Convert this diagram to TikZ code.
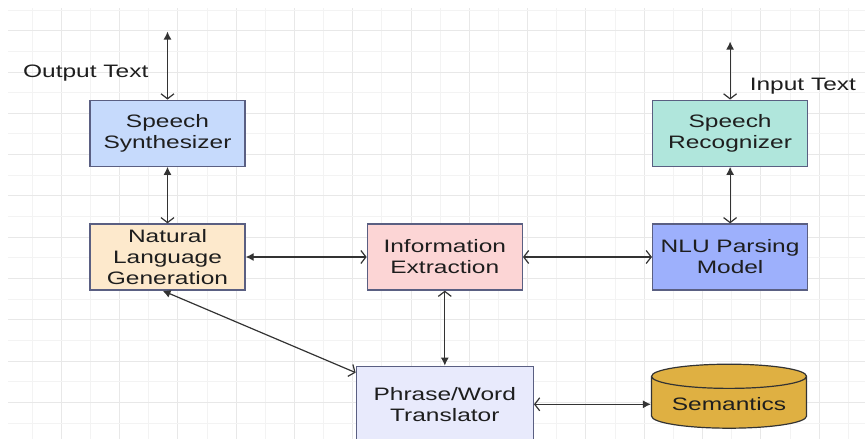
\documentclass[tikz,border=0pt]{standalone}
\usepackage{fontspec}
\setmainfont[FakeStretch=1.36]{Liberation Sans}
\usetikzlibrary{positioning,arrows.meta,shapes.geometric}

\definecolor{gridfaint}{HTML}{F3F3F3}
\definecolor{gridstrong}{HTML}{E8E8E8}
\definecolor{boxline}{HTML}{5A5F82}
\definecolor{inkgray}{HTML}{1E1E1E}
\definecolor{linkgray}{HTML}{333333}
\definecolor{synthfill}{HTML}{C6DAFC}
\definecolor{recogfill}{HTML}{B0E6DC}
\definecolor{nlgfill}{HTML}{FDE9CC}
\definecolor{iefill}{HTML}{FCD5D5}
\definecolor{nlufill}{HTML}{9DB0FC}
\definecolor{pwtfill}{HTML}{E8EAFC}
\definecolor{semfill}{HTML}{DFB042}

\begin{document}
\begin{tikzpicture}[x=1pt,y=1pt,
  box/.style={draw=boxline, line width=1.3pt, minimum width=155pt, minimum height=66pt,
    align=center, text=inkgray, font=\fontsize{18pt}{21pt}\selectfont},
  lbl/.style={inner sep=0pt, text=inkgray, font=\fontsize{18pt}{21pt}\selectfont},
  link/.style={draw=linkgray, line width=1.2pt},
  solidtip/.tip={Latex[length=8pt,width=8pt]},
  opentip/.tip={Straight Barb[length=5pt,width=13pt]}]
\useasboundingbox (0,0) rectangle (865,439);

%Background grid
\foreach \i in {0,2,...,28}
  \draw[gridfaint, line width=0.8pt] (32+29.15*\i,0) -- (32+29.15*\i,431);
\foreach \i in {1,3,...,27}
  \draw[gridstrong, line width=0.8pt] (32+29.15*\i,0) -- (32+29.15*\i,431);
\foreach \j in {0,2,...,20}
  \draw[gridfaint, line width=0.8pt] (8,429-20.65*\j) -- (865,429-20.65*\j);
\foreach \j in {1,3,...,19}
  \draw[gridstrong, line width=0.8pt] (8,429-20.65*\j) -- (865,429-20.65*\j);

%Blocks
\node (nlg) [box, fill=nlgfill] at (167.5,182) {Natural\\Language\\Generation};
\node (synth) [box, fill=synthfill, above=56.5pt of nlg] {Speech\\Synthesizer};
\node (ie) [box, fill=iefill, right=121pt of nlg] {Information\\Extraction};
\node (nlu) [box, fill=nlufill, right=129pt of ie] {NLU Parsing\\Model};
\node (recog) [box, fill=recogfill, above=56.5pt of nlu] {Speech\\Recognizer};
\node (pwt) [box, fill=pwtfill, minimum width=177pt, minimum height=76pt, below=75pt of ie] {Phrase/Word\\Translator};
\node (sem) [cylinder, shape border rotate=90, aspect=0.2, draw=linkgray, line width=1.2pt,
  cylinder uses custom fill, cylinder body fill=semfill, cylinder end fill=semfill,
  minimum width=155pt, minimum height=64pt, text=inkgray,
  font=\fontsize{18pt}{21pt}\selectfont, right=117pt of pwt] {Semantics};

%Free ends of the outer arrows
\coordinate (outtop) at ([yshift=68pt]synth.north);
\coordinate (intop) at ([yshift=58pt]recog.north);

%Names
\node (outlbl) [lbl, below left=33pt and 19pt of outtop] {Output Text};
\node (inlbl) [lbl, below right=36pt and 19.5pt of intop] {Input Text};

%Connectors
\draw[link, solidtip-opentip] (outtop) -- (synth);
\draw[link, solidtip-opentip] (synth) -- (nlg);
\draw[link, solidtip-opentip] (intop) -- (recog);
\draw[link, solidtip-opentip] (recog) -- (nlu);
\draw[link, solidtip-opentip] (nlg) -- (ie);
\draw[link, opentip-opentip] (ie) -- (nlu);
\draw[link, opentip-solidtip] (ie) -- (pwt);
\draw[link, solidtip-opentip] ([xshift=-5pt]nlg.south) -- ([yshift=-7pt]pwt.north west);
\draw[link, opentip-solidtip] (pwt) -- (sem);

\end{tikzpicture}
\end{document}
